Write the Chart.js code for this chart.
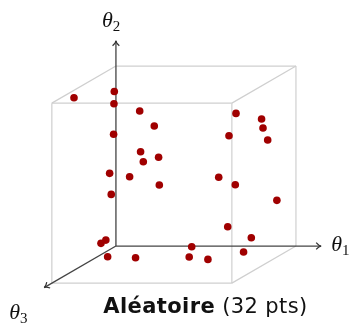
<!DOCTYPE html>
<html>
<head>
<meta charset="utf-8">
<script src="https://cdn.jsdelivr.net/npm/chart.js@4"></script>
<style>
  body { margin: 0; background: #fff; }
  #wrap { position: relative; width: 355px; height: 324px; overflow: hidden; }
  #title {
    position: absolute; left: 0; width: 411px; top: 294px;
    text-align: center; font-family: "DejaVu Sans", sans-serif;
    font-size: 21px; line-height: 24px; color: #111; white-space: nowrap; letter-spacing: 0.4px;
  }
</style>
</head>
<body>
<div id="wrap">
  <canvas id="chart" width="355" height="324"></canvas>
  <div id="title"><b>Aléatoire</b> (32 pts)</div>
</div>
<script>
// projected positions of the samples (cube units, back face = unit square)
const pointX = [-0.233, -0.009, -0.011, 0.132, 0.213, -0.013, 0.137, 0.152, 0.237, -0.035,
                0.076, 0.241, -0.026, -0.056, -0.083, -0.046, 0.109, 0.421, 0.407, 0.511,
                0.709, 0.752, 0.621, 0.894, 0.571, 0.663, 0.628, 0.667, 0.809, 0.817, 0.843];
const pointY = [0.824, 0.859, 0.791, 0.750, 0.667, 0.621, 0.524, 0.468, 0.493, 0.404,
                0.385, 0.339, 0.287, 0.033, 0.015, -0.059, -0.065, -0.004, -0.061, -0.074,
                -0.033, 0.046, 0.107, 0.254, 0.382, 0.341, 0.613, 0.737, 0.706, 0.656, 0.589];

// cube corners (θ1, θ2, θ3) and edges
const corners = [[0,0,0],[1,0,0],[1,1,0],[0,1,0],[0,0,1],[1,0,1],[1,1,1],[0,1,1]];
const edges = [[1,2],[2,3],[4,5],[5,6],[6,7],[7,4],[1,5],[2,6],[3,7]];
const axisEnds = [[1.14,0,0],[0,1.14,0],[0,0,1.12]];
const axisNames = ['1', '2', '3'];

// oblique projection of the depth axis
const depth = { x: -0.356, y: -0.206 };
function proj(p) {
    return { x: p[0] + p[2] * depth.x, y: p[1] + p[2] * depth.y };
}

const datasets = [];
datasets.push({
    label: 'points',
    data: pointX.map((x, i) => ({ x: x, y: pointY[i] })),
    backgroundColor: '#a00000',
    borderWidth: 0,
    pointRadius: 3.8,
    order: 0
});
edges.forEach(e => {
    datasets.push({
        data: [proj(corners[e[0]]), proj(corners[e[1]])],
        showLine: true,
        borderColor: '#cfcfcf',
        borderWidth: 1.2,
        pointRadius: 0,
        order: 2
    });
});
axisEnds.forEach(a => {
    datasets.push({
        data: [proj([0,0,0]), proj(a)],
        showLine: true,
        borderColor: '#444',
        borderWidth: 1.3,
        pointRadius: 0,
        order: 1
    });
});

// arrow tips and θ labels
const axisDecor = {
    id: 'axisDecor',
    afterDatasetsDraw(chart) {
        const ctx = chart.ctx;
        const xs = chart.scales.x, ys = chart.scales.y;
        const o = proj([0,0,0]);
        const ox = xs.getPixelForValue(o.x), oy = ys.getPixelForValue(o.y);
        const offsets = [[10, 5], [-14, -14], [-35, 31]];
        axisEnds.forEach((a, i) => {
            const t = proj(a);
            const tx = xs.getPixelForValue(t.x), ty = ys.getPixelForValue(t.y);
            const ang = Math.atan2(ty - oy, tx - ox);
            ctx.save();
            ctx.strokeStyle = '#333';
            ctx.lineWidth = 1.2;
            ctx.beginPath();
            ctx.moveTo(tx - 6 * Math.cos(ang - 0.6), ty - 6 * Math.sin(ang - 0.6));
            ctx.quadraticCurveTo(tx - 2 * Math.cos(ang), ty - 2 * Math.sin(ang), tx, ty);
            ctx.quadraticCurveTo(tx - 2 * Math.cos(ang), ty - 2 * Math.sin(ang),
                tx - 6 * Math.cos(ang + 0.6), ty - 6 * Math.sin(ang + 0.6));
            ctx.stroke();

            const lx = tx + offsets[i][0], ly = ty + offsets[i][1];
            ctx.fillStyle = '#111';
            ctx.textBaseline = 'alphabetic';
            ctx.font = 'italic 22px "Liberation Serif"';
            ctx.fillText('θ', lx, ly);
            const w = ctx.measureText('θ').width;
            ctx.font = '15px "Liberation Serif"';
            ctx.fillText(axisNames[i], lx + w, ly + 4);
            ctx.restore();
        });
    }
};

new Chart(document.getElementById('chart'), {
    type: 'scatter',
    data: { datasets: datasets },
    options: {
        responsive: false,
        animation: false,
        layout: { padding: 0, autoPadding: false },
        scales: {
            x: { display: false, min: -0.644, max: 1.328 },
            y: { display: false, min: -0.433, max: 1.367 }
        },
        plugins: {
            legend: { display: false },
            tooltip: { enabled: false }
        }
    },
    plugins: [axisDecor]
});
</script>
</body>
</html>
